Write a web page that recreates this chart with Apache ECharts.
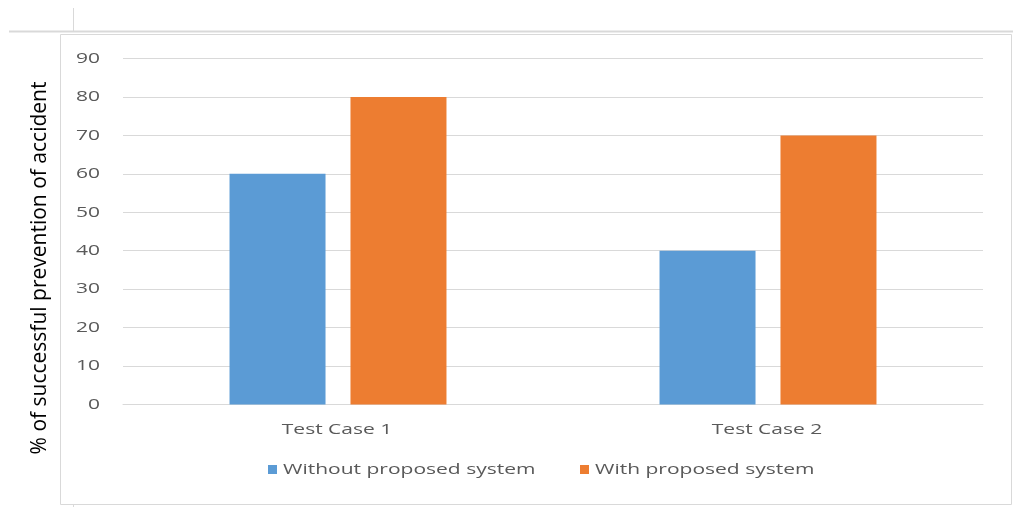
<!DOCTYPE html>
<html><head><meta charset="utf-8">
<script src="https://cdn.jsdelivr.net/npm/echarts@6/dist/echarts.min.js"></script>
<style>html,body{margin:0;padding:0;background:#fff}#c{width:1013px;height:507px}</style>
</head><body><div id="c"></div>
<script>
const categories = ['Test Case 1', 'Test Case 2'];
const seriesNames = ['Without proposed system', 'With proposed system'];
const withoutSystem = [60, 40];
const withSystem = [80, 70];
const yTickLabels = [0, 10, 20, 30, 40, 50, 60, 70, 80, 90];
const colors = ['#5B9BD5', '#ED7D31'];

const chart = echarts.init(document.getElementById('c'));
const font = 'Open Sans';
const txt = '#595959';
const SX = 1.4; // horizontal stretch of the reference's text

const deco = [
  { type: 'line', shape: { x1: 9, y1: 31.5, x2: 1013, y2: 31.5 }, style: { stroke: '#d9d9d9', lineWidth: 2 }, silent: true },
  { type: 'line', shape: { x1: 73.5, y1: 8, x2: 73.5, y2: 32 }, style: { stroke: '#d9d9d9', lineWidth: 1 }, silent: true },
  { type: 'rect', shape: { x: 60.5, y: 34.5, width: 951, height: 470 }, style: { fill: 'none', stroke: '#d9d9d9', lineWidth: 1 }, silent: true },
  { type: 'line', shape: { x1: 73.5, y1: 505, x2: 73.5, y2: 507 }, style: { stroke: '#d9d9d9', lineWidth: 1 }, silent: true },
  { type: 'text', x: 40, y: 268, rotation: Math.PI / 2,
    style: { text: '% of successful prevention of accident', fontFamily: font, fontSize: 21, fill: '#000', textAlign: 'center', textVerticalAlign: 'middle' } }
];

chart.setOption({
  animation: false,
  grid: { left: 123, right: 30, top: 58.5, bottom: 102.5, containLabel: false },
  legend: { show: false, data: seriesNames },
  xAxis: {
    type: 'category', data: categories,
    axisLine: { lineStyle: { color: '#d9d9d9' } },
    axisTick: { show: false },
    axisLabel: { show: false }
  },
  yAxis: {
    type: 'value', min: yTickLabels[0], max: yTickLabels[yTickLabels.length - 1], interval: yTickLabels[1] - yTickLabels[0],
    axisLine: { show: false }, axisTick: { show: false },
    axisLabel: { show: false },
    splitLine: { lineStyle: { color: '#d9d9d9' } }
  },
  series: [
    { name: seriesNames[0], type: 'bar', data: withoutSystem, barWidth: 96, barGap: '26%', itemStyle: { color: colors[0] } },
    { name: seriesNames[1], type: 'bar', data: withSystem, barWidth: 96, itemStyle: { color: colors[1] } }
  ],
  graphic: deco
});

// Axis labels and legend drawn as stretched text, positioned through the chart's own scales
const labels = [];
yTickLabels.forEach(v => {
  const y = chart.convertToPixel({ yAxisIndex: 0 }, v);
  labels.push({ type: 'text', x: 100, y: y, scaleX: SX, silent: true,
    style: { text: String(v), fontFamily: font, fontSize: 15, fill: txt, textAlign: 'right', textVerticalAlign: 'middle' } });
});
categories.forEach(c => {
  const x = chart.convertToPixel({ xAxisIndex: 0 }, c);
  labels.push({ type: 'text', x: x - 1, y: 430, scaleX: SX, silent: true,
    style: { text: c, fontFamily: font, fontSize: 15, fill: txt, textAlign: 'center', textVerticalAlign: 'middle' } });
});
const legendX = [268, 580];
seriesNames.forEach((n, i) => {
  labels.push({ type: 'rect', shape: { x: legendX[i], y: 465, width: 9, height: 9 }, style: { fill: colors[i] }, silent: true });
  labels.push({ type: 'text', x: legendX[i] + 15, y: 469.5, scaleX: SX, silent: true,
    style: { text: n, fontFamily: font, fontSize: 15, fill: txt, textAlign: 'left', textVerticalAlign: 'middle' } });
});
chart.setOption({ graphic: deco.concat(labels) });
</script></body></html>
